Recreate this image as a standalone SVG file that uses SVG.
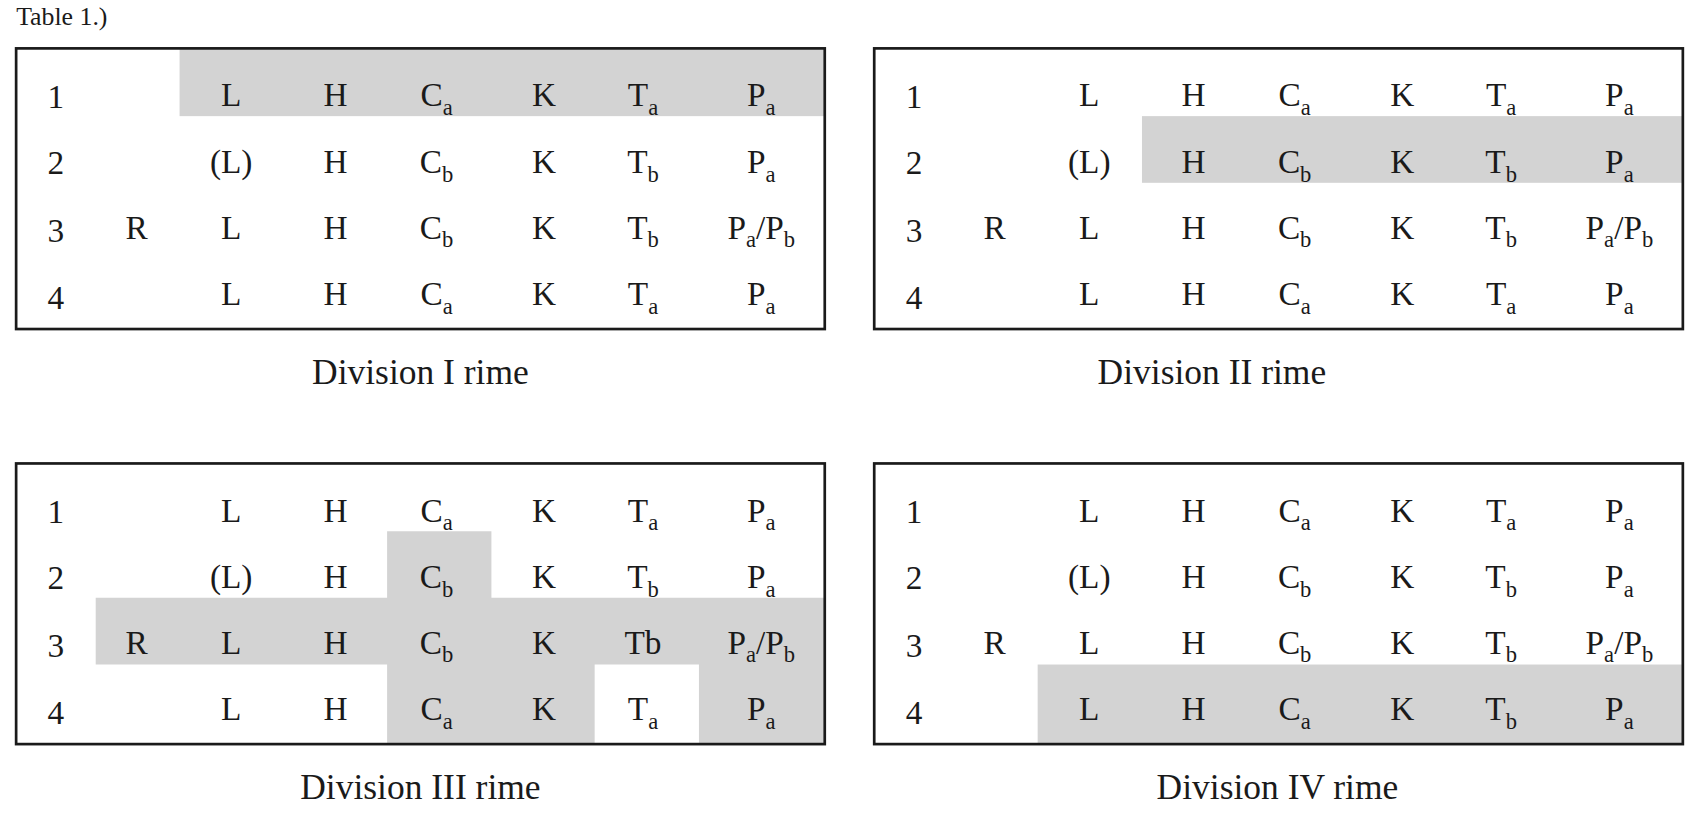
<svg xmlns="http://www.w3.org/2000/svg" width="1686" height="836" viewBox="0 0 1686 836">
<style>
text{font-family:"Liberation Serif","DejaVu Serif",serif;fill:#1a1a1a}
.c{font-size:31px;text-anchor:middle}
.cap{font-size:33px;text-anchor:middle}
.s{font-size:21px}
.box{fill:none;stroke:#1a1a1a;stroke-width:2.5}
.sh{fill:#d3d3d3}
</style>
<defs>
<g id="grid">
<text class="c" x="52" y="100">1</text><text class="c" x="215" y="99">L</text><text class="c" x="312" y="99">H</text><text class="c" x="406" y="99">C<tspan class="s" dy="8">a</tspan></text><text class="c" x="506" y="99">K</text><text class="c" x="598" y="99">T<tspan class="s" dy="8">a</tspan></text><text class="c" x="708" y="99">P<tspan class="s" dy="8">a</tspan></text>
<text class="c" x="52" y="162">2</text><text class="c" x="215" y="161">(L)</text><text class="c" x="312" y="161">H</text><text class="c" x="406" y="161">C<tspan class="s" dy="8">b</tspan></text><text class="c" x="506" y="161">K</text><text class="c" x="598" y="161">T<tspan class="s" dy="8">b</tspan></text><text class="c" x="708" y="161">P<tspan class="s" dy="8">a</tspan></text>
<text class="c" x="52" y="225">3</text><text class="c" x="127" y="222">R</text><text class="c" x="215" y="222">L</text><text class="c" x="312" y="222">H</text><text class="c" x="406" y="222">C<tspan class="s" dy="8">b</tspan></text><text class="c" x="506" y="222">K</text>
<text class="c" x="52" y="287">4</text><text class="c" x="215" y="284">L</text><text class="c" x="312" y="284">H</text><text class="c" x="406" y="284">C<tspan class="s" dy="8">a</tspan></text><text class="c" x="506" y="284">K</text><text class="c" x="708" y="284">P<tspan class="s" dy="8">a</tspan></text>
</g>
<g id="tb3"><text class="c" x="598" y="222">T<tspan class="s" dy="8">b</tspan></text></g>
<g id="pab"><text class="c" x="708" y="222">P<tspan class="s" dy="8">a</tspan><tspan dy="-8">/P</tspan><tspan class="s" dy="8">b</tspan></text></g>
<g id="ta4"><text class="c" x="598" y="284">T<tspan class="s" dy="8">a</tspan></text></g>
<g id="tb4"><text class="c" x="598" y="284">T<tspan class="s" dy="8">b</tspan></text></g>
</defs>
<g transform="scale(1.0753)">
<text x="15" y="23" style="font-size:24px">Table 1.)</text>
<g id="div1">
<rect class="sh" x="167" y="45" width="600" height="63"/>
<use href="#grid"/><use href="#tb3"/><use href="#pab"/><use href="#ta4"/>
<rect class="box" x="15" y="45" width="752" height="261"/>
<text class="cap" x="391" y="357">Division I rime</text>
</g>
<g id="div2" transform="translate(798,0)">
<rect class="sh" x="264" y="108" width="503" height="62"/>
<use href="#grid"/><use href="#tb3"/><use href="#pab"/><use href="#ta4"/>
<rect class="box" x="15" y="45" width="752" height="261"/>
<text class="cap" x="329" y="357">Division II rime</text>
</g>
<g id="div3" transform="translate(0,386)">
<path class="sh" d="M360 108H457V170H767V306H650V232H553V306H360V232H89V170H360Z"/>
<use href="#grid"/><text class="c" x="598" y="222">Tb</text><use href="#pab"/><use href="#ta4"/>
<rect class="box" x="15" y="45" width="752" height="261"/>
<text class="cap" x="391" y="357">Division III rime</text>
</g>
<g id="div4" transform="translate(798,386)">
<rect class="sh" x="167" y="232" width="600" height="73"/>
<use href="#grid"/><use href="#tb3"/><use href="#pab"/><use href="#tb4"/>
<rect class="box" x="15" y="45" width="752" height="261"/>
<text class="cap" x="390" y="357">Division IV rime</text>
</g>
</g>
</svg>
